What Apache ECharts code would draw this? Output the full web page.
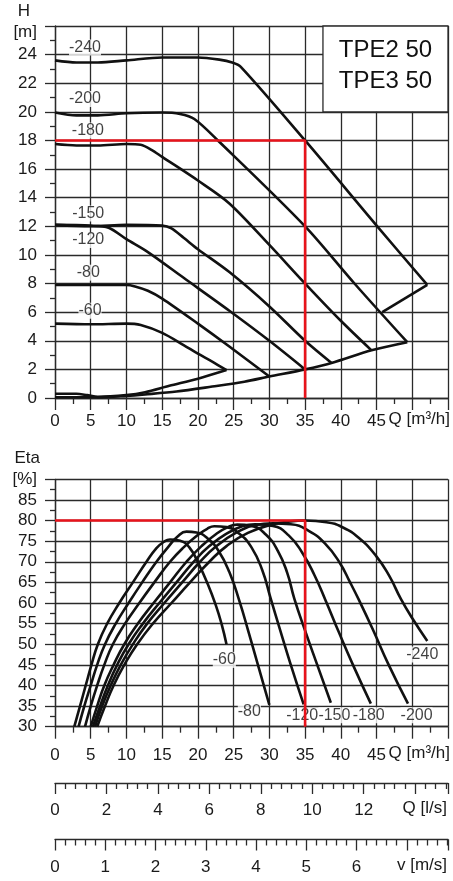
<!DOCTYPE html>
<html>
<head>
<meta charset="utf-8">
<script src="https://cdn.jsdelivr.net/npm/echarts@6/dist/echarts.min.js"></script>
<style>
  html, body { margin: 0; padding: 0; background: #fff; }
  #chart { width: 453px; height: 881px; }
</style>
</head>
<body>
<div id="chart"></div>
<script>
// head curves H [m] over Q [m3/h]
const h240 = [[0,23.6],[3,23.45],[6,23.45],[10,23.6],[15,23.8],[20,23.8],[23,23.65],[24.8,23.45],[26,23.15],[35,18],[45.1,12],[52.1,7.9]];
const h240Tail = [[52.1,7.9],[45.8,6.0]];
const h200 = [[0,19.95],[3,19.75],[6,19.75],[10,19.9],[15,19.95],[17.5,19.85],[19.5,19.5],[22.8,18],[35,12],[42,7.95],[49.3,3.9]];
const h180 = [[0,17.75],[3,17.65],[6,17.65],[10,17.75],[12,17.7],[13.5,17.35],[15,16.85],[20,15.2],[24.4,13.6],[30,10.7],[35,8],[40,5.4],[44.3,3.33]];
const h150 = [[0,12.1],[5,12.0],[10,12.1],[15,12.05],[16.3,11.85],[18,11.2],[20,10.4],[24.4,8.8],[30,6.4],[35,4],[38.7,2.45]];
const h120 = [[0,12.1],[5,12.05],[7.5,11.9],[10,11.1],[13,10.2],[18,8.4],[24.4,6.1],[30,4.0],[35,2]];
const h80 = [[0,7.9],[5,7.9],[10,7.9],[11.2,7.8],[13,7.5],[15,6.95],[20,5.2],[24.4,3.6],[30,1.5]];
const h60 = [[0,5.2],[5,5.15],[10,5.2],[12,5.1],[15,4.55],[18,3.7],[20,3.1],[22,2.55],[24,1.95]];
const h60Tail = [[24,1.95],[20,1.35],[16,0.85],[12.6,0.4],[10,0.2],[6,0.08],[4.5,0.2],[3,0.3],[0,0.3]];
const hEnvelope = [[49.3,3.9],[44.3,3.33],[38.7,2.45],[35,2],[30,1.5],[26.5,1.14],[22,0.8],[17,0.45],[12.6,0.25],[10,0.15],[6,0.05],[0,0.05]];
const hDuty = [[0,18],[35,18],[35,0]];
const hLabels = [[4.2,24.5,'-240'],[4.2,20.9,'-200'],[4.6,18.7,'-180'],[4.65,12.9,'-150'],[4.65,11.05,'-120'],[4.65,8.76,'-80'],[4.9,6.1,'-60']];

// efficiency curves Eta [%] over Q [m3/h]
const eta60 = [[2.7,30],[3.5,35],[4.3,40],[5.1,45],[6.0,50],[7.3,55],[9.0,60],[10.9,65],[12.8,70],[14.2,73.3],[15.2,74.8],[16.1,75.4],[17.5,75.1],[18.8,73.5],[20.1,69.5],[21.4,64.5],[22.5,59.5],[23.3,55],[24,50]];
const eta80 = [[3.3,30],[4.1,35],[5.0,40],[5.9,45],[7.0,50],[8.5,55],[10.3,60],[12.2,65],[14.2,70],[15.8,73.5],[17.2,76.2],[18.4,77.3],[19.8,77.1],[21.4,75.6],[22.9,72.6],[24.4,67.5],[25.8,60.5],[27,53.5],[28.4,45],[30,35.3]];
const eta120 = [[4.2,30],[5.0,35],[5.9,40],[6.9,45],[8.1,50],[9.8,55],[11.8,60],[13.9,65],[16.1,70],[18,73.5],[20,76.5],[21.3,78],[22.3,78.6],[24,78.4],[25.8,76.8],[27.5,73.5],[29,68],[30.2,61],[31.5,53.5],[33,45],[34.8,35.4]];
const eta150 = [[5.0,30],[5.9,35],[6.9,40],[8.2,45],[9.7,50],[11.6,55],[13.8,60],[16.1,65],[18.4,70],[20.5,73.8],[22.6,76.8],[24.2,78.4],[25.5,79],[27.5,78.7],[29.5,76.6],[31.2,72.6],[32.5,67.3],[33.5,61],[35,53.3],[36.7,45],[38.6,35.8]];
const eta180 = [[5.3,30],[6.3,35],[7.4,40],[8.7,45],[10.3,50],[12.3,55],[14.6,60],[17,65],[19.4,70],[21.6,73.8],[24,76.8],[26.2,78.6],[28,79.1],[30.5,78.7],[32.7,76.4],[34.6,72.2],[36.3,66.8],[37.9,60.5],[39.7,53],[41.7,45],[44.2,35.6]];
const eta200 = [[5.6,30],[6.6,35],[7.8,40],[9.2,45],[10.9,50],[12.9,55],[15.3,60],[17.8,65],[20.3,70],[22.6,73.8],[25.3,77],[28,78.9],[30.5,79.3],[33,79.1],[35.5,77.5],[37.8,74.4],[39.8,69.9],[41.3,65],[42.6,60.5],[44.5,53.5],[46.7,45],[49.4,35.6]];
const eta240 = [[5.9,30],[7.0,35],[8.2,40],[9.7,45],[11.5,50],[13.7,55],[16.3,60],[18.9,65],[21.6,70],[24,73.8],[27,77],[30.5,79.1],[33,79.8],[35,80],[38,79.6],[40.3,78.3],[42.5,75.8],[44.9,71.5],[46.8,66.5],[48.4,61],[50,56.3],[52.1,50.8]];
const etaDuty = [[0,80],[35,80],[35,30]];
const etaLabels = [[23.7,46.2,'-60'],[27.2,33.6,'-80'],[34.6,32.6,'-120'],[39.1,32.8,'-150'],[43.9,32.8,'-180'],[50.6,32.8,'-200'],[51.4,47.5,'-240']];

// axis ranges
const qMax = 55;            // m3/h
const qLsMax = qMax / 3.6;  // l/s
const vMax = 7.82;          // m/s
const titleLines = ['TPE2 50', 'TPE3 50'];

const FONT = '"Liberation Sans", Arial, sans-serif';
const INK = '#1a1a1a';
const GRIDC = '#2a2a2a';

const chart = echarts.init(document.getElementById('chart'));

function curve(data, g, sm) {
  return {
    type: 'line', xAxisIndex: g, yAxisIndex: g, data: data,
    symbol: 'none', smooth: sm || 0.3, silent: true, z: 3,
    lineStyle: { color: '#111', width: 2.6 }
  };
}
function duty(data, g) {
  return {
    type: 'line', xAxisIndex: g, yAxisIndex: g, data: data,
    symbol: 'none', silent: true, z: 5,
    lineStyle: { color: '#e8131b', width: 2.6 }
  };
}
function labels(data, g) {
  return {
    type: 'scatter', xAxisIndex: g, yAxisIndex: g, data: data,
    symbolSize: 1, itemStyle: { color: 'rgba(0,0,0,0)' }, silent: true, z: 4,
    label: {
      show: true, position: 'inside', formatter: p => p.data[2],
      fontFamily: FONT, fontSize: 16, color: '#111', backgroundColor: '#fff', padding: 0
    }
  };
}

function mainX(g, labelMargin) {
  return {
    gridIndex: g, type: 'value', min: 0, max: qMax, interval: 5,
    axisLine: { lineStyle: { color: GRIDC, width: 1.3 } },
    axisTick: { length: 12, lineStyle: { color: GRIDC, width: 1.3 } },
    minorTick: { show: true, splitNumber: 2, length: 6, lineStyle: { color: GRIDC, width: 1.3 } },
    splitLine: { lineStyle: { color: GRIDC, width: 1.3 } },
    axisLabel: { margin: labelMargin, fontFamily: FONT, fontSize: 17, color: INK, formatter: v => v > 45 ? '' : v }
  };
}
function mainY(g, min, max, interval, topText, name, nameGap, namePad, unitPad) {
  return {
    gridIndex: g, type: 'value', min: min, max: max, interval: interval,
    name: name, nameLocation: 'end', nameGap: nameGap,
    nameTextStyle: { fontFamily: FONT, fontSize: 17, color: INK, align: 'right', padding: [0, namePad, 0, 0] },
    axisLine: { lineStyle: { color: GRIDC, width: 1.3 } },
    axisTick: { length: 10, lineStyle: { color: GRIDC, width: 1.3 } },
    minorTick: { show: true, splitNumber: 2, length: 5, lineStyle: { color: GRIDC, width: 1.3 } },
    splitLine: { lineStyle: { color: GRIDC, width: 1.3 } },
    axisLabel: {
      margin: 18, fontFamily: FONT, fontSize: 17, color: INK, showMaxLabel: true,
      formatter: v => v === max ? '{u|' + topText + '}' : v,
      rich: { u: { fontFamily: FONT, fontSize: 17, color: INK, padding: [unitPad, 0, 0, 0] } }
    }
  };
}
function scaleX(g, max, interval, lastLabel) {
  return {
    gridIndex: g, type: 'value', min: 0, max: max, interval: interval,
    axisLine: { lineStyle: { color: GRIDC, width: 1.3 } },
    axisTick: { length: 11, lineStyle: { color: GRIDC, width: 1.3 } },
    minorTick: { show: true, splitNumber: 5, length: 6, lineStyle: { color: GRIDC, width: 1.3 } },
    splitLine: { show: false },
    axisLabel: { margin: 19, fontFamily: FONT, fontSize: 17, color: INK, formatter: v => v > lastLabel ? '' : v }
  };
}
function hiddenY(g) {
  return { gridIndex: g, type: 'value', min: 0, max: 1, show: false };
}
// unit text at the right end of each horizontal scale
function unitText(text, right, y) {
  return {
    type: 'text', right: right, top: y - 10, silent: true,
    style: { text: text, font: '17px ' + FONT, fill: INK }
  };
}

const option = {
  animation: false,
  backgroundColor: '#fff',
  grid: [
    { left: 55, right: 5, top: 26, height: 372 },
    { left: 55, right: 5, top: 479.3, height: 247.4 },
    { left: 55, right: 5, top: 782, height: 1 },
    { left: 55, right: 5, top: 838.5, height: 1 }
  ],
  xAxis: [
    mainX(0, 15),
    mainX(1, 20),
    scaleX(2, qLsMax, 2, 12),
    scaleX(3, vMax, 1, 6)
  ],
  yAxis: [
    mainY(0, 0, 26, 2, '[m]', 'H', 6, 25, 12),
    mainY(1, 30, 90, 5, '[%]', 'Eta', 12, 15, 0),
    hiddenY(2),
    hiddenY(3)
  ],
  graphic: [
    unitText('Q [m³/h]', 3, 421),
    unitText('Q [m³/h]', 3, 755),
    unitText('Q [l/s]', 6, 810),
    unitText('v [m/s]', 6, 867)
  ],
  series: [
    Object.assign(curve(h240, 0), {
      markArea: {
        silent: true,
        itemStyle: { color: '#fff', borderColor: GRIDC, borderWidth: 1.3 },
        label: {
          show: true, position: 'inside', formatter: titleLines.join('\n'),
          fontFamily: FONT, fontSize: 24, lineHeight: 31, color: '#111', offset: [0, -3]
        },
        data: [[{ xAxis: 37.5, yAxis: 20 }, { xAxis: qMax, yAxis: 26 }]]
      }
    }),
    curve(h240Tail, 0), curve(h200, 0), curve(h180, 0), curve(h150, 0),
    curve(h120, 0), curve(h80, 0), curve(h60, 0), curve(h60Tail, 0), curve(hEnvelope, 0),
    labels(hLabels, 0),
    duty(hDuty, 0),
    curve(eta60, 1, 0.5), curve(eta80, 1, 0.5), curve(eta120, 1, 0.5), curve(eta150, 1, 0.5),
    curve(eta180, 1, 0.5), curve(eta200, 1, 0.5), curve(eta240, 1, 0.5),
    labels(etaLabels, 1),
    duty(etaDuty, 1)
  ]
};
chart.setOption(option);
</script>
</body>
</html>
